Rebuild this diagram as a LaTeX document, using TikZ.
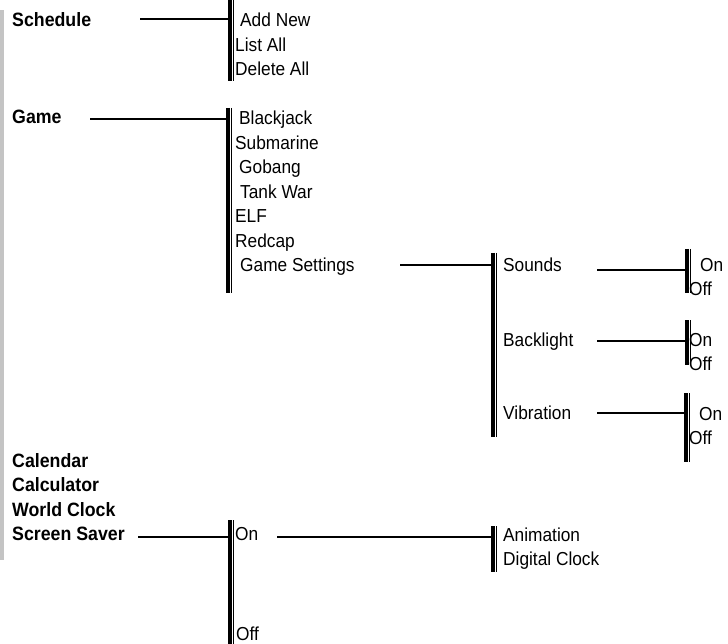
\documentclass[tikz,border=0pt]{standalone}
\usepackage{fontspec}
\setmainfont{Liberation Sans}[FakeStretch=0.92]
\definecolor{sidegray}{RGB}{196,196,196}
\begin{document}
\begin{tikzpicture}[x=1pt,y=-1pt,
  lbl/.style={anchor=base west,inner sep=0pt,font=\fontsize{18.8}{20}\selectfont},
  top/.style={anchor=base west,inner sep=0pt,font=\fontsize{19.3}{20}\selectfont\bfseries},
  conn/.style={line width=2pt},
  thickbar/.style={line width=4pt},
  thinbar/.style={line width=1.2pt}]
\useasboundingbox (0,0) rectangle (728,644);
% gray side bar
\fill[sidegray] (0,10) rectangle (4,560);
% brackets
\newcommand{\mybracket}[4]{%
  \coordinate (#1t) at (#2,#3);
  \coordinate (#1b) at (#2,#4);
  \draw[thickbar] (#1t) -- (#1b);
  \draw[thinbar] ([xshift=3.8pt]#1t) -- ([xshift=3.8pt]#1b);}
\mybracket{bsch}{230}{0}{81}
\mybracket{bgam}{228}{108}{293}
\mybracket{bscr}{230}{520}{644}
\mybracket{bgs}{493}{253}{437}
\mybracket{bsnd}{687}{249}{293}
\mybracket{bbkl}{687}{320}{365}
\mybracket{bvib}{686}{393}{462}
\mybracket{bon}{493}{526}{572}
% left column
\node[top] (sched) at (12,27) {Schedule};
\node[top] (game) at (12,124) {Game};
\node[top] (cal) at (12,467) {Calendar};
\node[top] (calc) at (12,491.5) {Calculator};
\node[top] (wclk) at (12,516) {World Clock};
\node[top] (ssav) at (12,540) {Screen Saver};
% schedule items
\node[lbl] (addnew) at (240,27) {Add New};
\node[lbl] (listall) at (235,51.5) {List All};
\node[lbl] (delall) at (235,76) {Delete All};
% game items
\node[lbl] (bj) at (239,125) {Blackjack};
\node[lbl] (sub) at (235,149.5) {Submarine};
\node[lbl] (gob) at (239,174) {Gobang};
\node[lbl] (tank) at (240,198.5) {Tank War};
\node[lbl] (elf) at (235,223) {ELF};
\node[lbl] (red) at (235,247.5) {Redcap};
\node[lbl] (gset) at (240,272) {Game Settings};
% game settings items
\node[lbl] (snd) at (503,272) {Sounds};
\node[lbl] (bkl) at (503,346) {Backlight};
\node[lbl] (vib) at (503,419) {Vibration};
\node[lbl] (sndon) at (700,272) {On};
\node[lbl] (sndoff) at (689,296) {Off};
\node[lbl] (bklon) at (689,346) {On};
\node[lbl] (bkloff) at (689,370) {Off};
\node[lbl] (vibon) at (699,420) {On};
\node[lbl] (viboff) at (689,444) {Off};
% screen saver items
\node[lbl] (sson) at (235,540) {On};
\node[lbl] (ssoff) at (236,640) {Off};
\node[lbl] (anim) at (503,541.5) {Animation};
\node[lbl] (dclk) at (503,565.5) {Digital Clock};
% connectors
\coordinate (c1a) at (140,19);  \coordinate (c1b) at (228,19);
\coordinate (c2a) at (90,119);  \coordinate (c2b) at (226,119);
\coordinate (c3a) at (138,537); \coordinate (c3b) at (228,537);
\coordinate (c4a) at (400,265); \coordinate (c4b) at (491,265);
\coordinate (c5a) at (597,270); \coordinate (c5b) at (685,270);
\coordinate (c6a) at (597,341); \coordinate (c6b) at (685,341);
\coordinate (c7a) at (597,413); \coordinate (c7b) at (684,413);
\coordinate (c8a) at (277,537); \coordinate (c8b) at (491,537);
\draw[conn] (c1a) -- (c1b);
\draw[conn] (c2a) -- (c2b);
\draw[conn] (c3a) -- (c3b);
\draw[conn] (c4a) -- (c4b);
\draw[conn] (c5a) -- (c5b);
\draw[conn] (c6a) -- (c6b);
\draw[conn] (c7a) -- (c7b);
\draw[conn] (c8a) -- (c8b);
\end{tikzpicture}
\end{document}
